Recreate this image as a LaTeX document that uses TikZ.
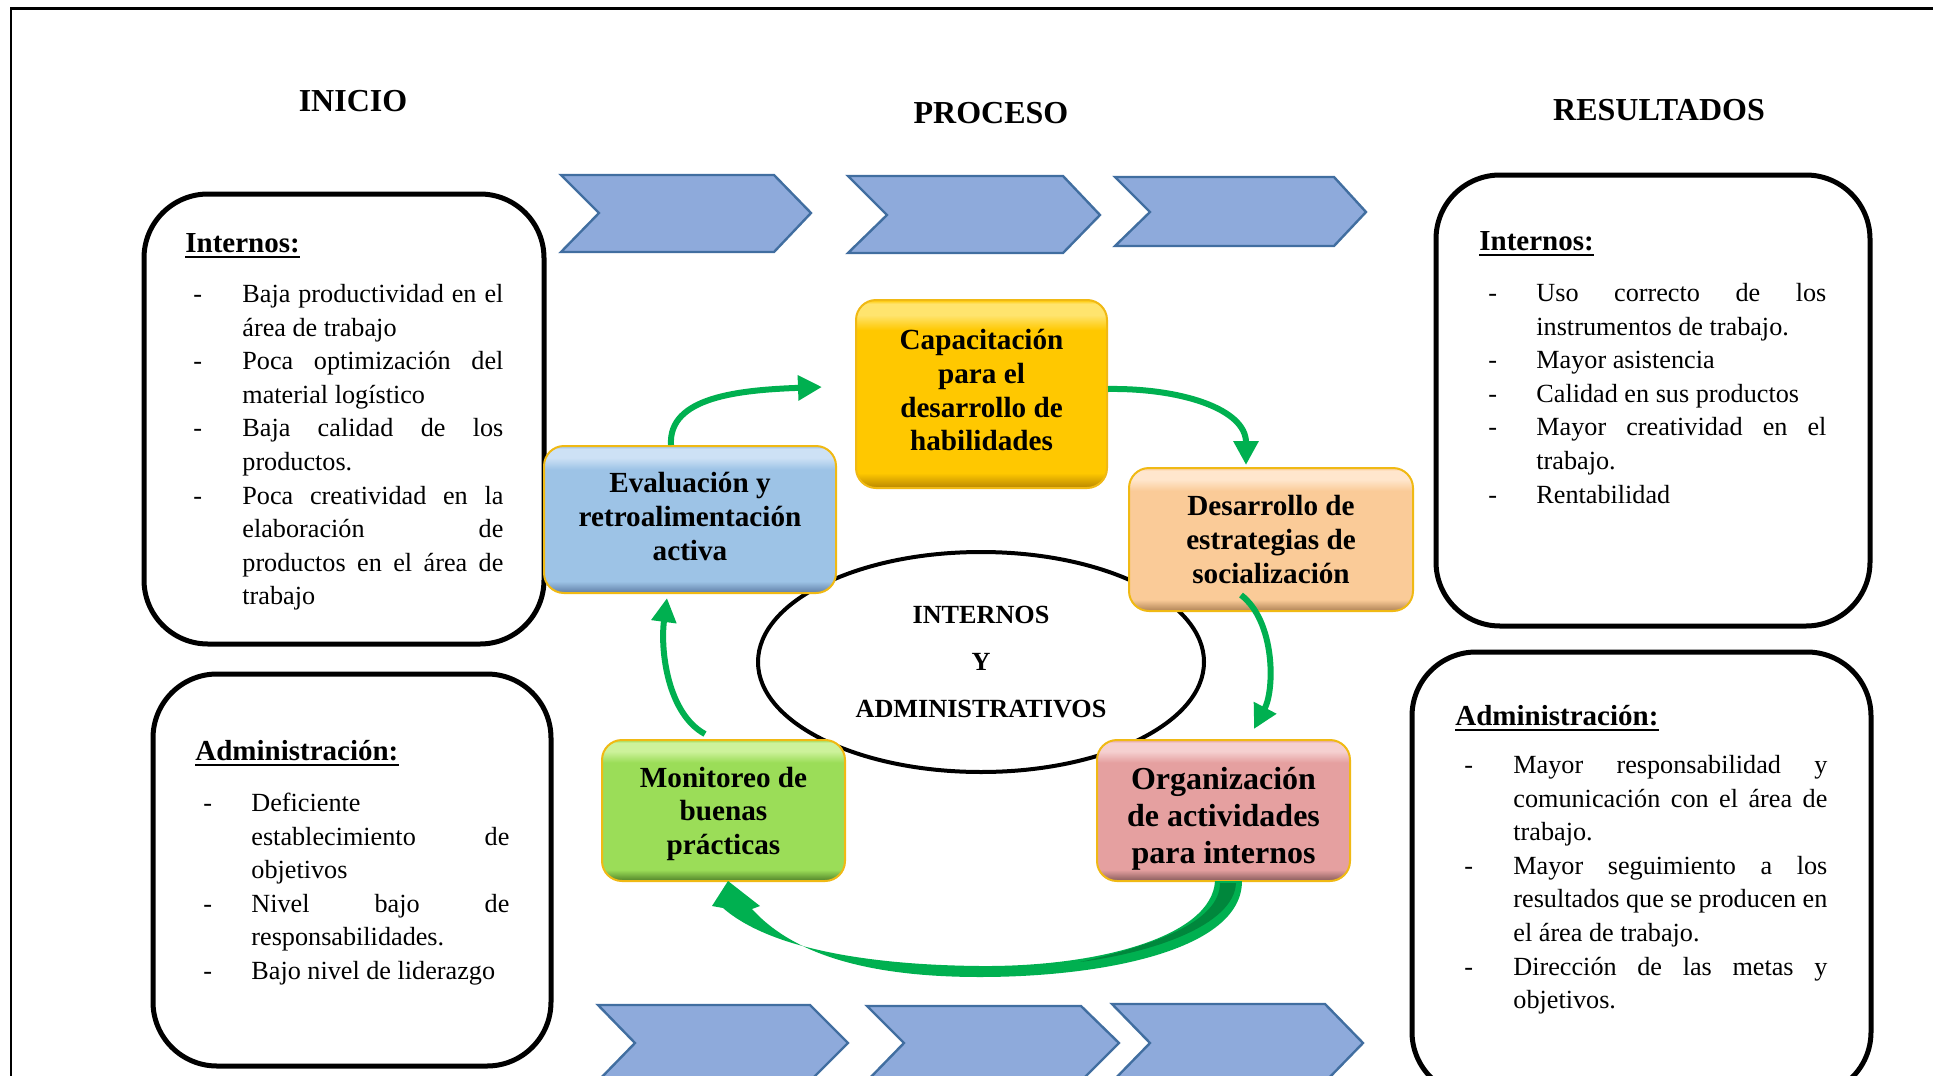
\documentclass[tikz,border=0pt]{standalone}
\usepackage{fontspec}
\setmainfont{Liberation Serif}
\usetikzlibrary{arrows.meta,calc,shapes.geometric}

\definecolor{chevfill}{RGB}{142,170,219}
\definecolor{chevline}{RGB}{65,110,160}
\definecolor{agreen}{RGB}{0,176,80}
\definecolor{dgreen}{RGB}{0,135,60}
\definecolor{goldline}{RGB}{240,185,20}

\definecolor{yB}{RGB}{255,200,0}\definecolor{yL}{RGB}{255,228,110}\definecolor{yD}{RGB}{185,135,0}
\definecolor{bB}{RGB}{157,195,230}\definecolor{bL}{RGB}{205,225,245}\definecolor{bD}{RGB}{95,125,165}
\definecolor{pB}{RGB}{250,203,152}\definecolor{pL}{RGB}{255,230,205}\definecolor{pD}{RGB}{175,130,85}
\definecolor{rB}{RGB}{229,160,160}\definecolor{rL}{RGB}{245,208,208}\definecolor{rD}{RGB}{135,90,90}
\definecolor{gB}{RGB}{155,221,88}\definecolor{gL}{RGB}{205,242,155}\definecolor{gD}{RGB}{80,130,40}

\pgfdeclareverticalshading{shY}{100bp}{color(0bp)=(yD); color(25bp)=(yD); color(29bp)=(yB); color(67bp)=(yB); color(71bp)=(yL); color(74bp)=(yL); color(75bp)=(yB); color(100bp)=(yB)}
\pgfdeclareverticalshading{shB}{100bp}{color(0bp)=(bD); color(25bp)=(bD); color(29bp)=(bB); color(67bp)=(bB); color(71bp)=(bL); color(74bp)=(bL); color(75bp)=(bB); color(100bp)=(bB)}
\pgfdeclareverticalshading{shP}{100bp}{color(0bp)=(pD); color(25bp)=(pD); color(29bp)=(pB); color(67bp)=(pB); color(71bp)=(pL); color(74bp)=(pL); color(75bp)=(pB); color(100bp)=(pB)}
\pgfdeclareverticalshading{shR}{100bp}{color(0bp)=(rD); color(25bp)=(rD); color(29bp)=(rB); color(67bp)=(rB); color(71bp)=(rL); color(74bp)=(rL); color(75bp)=(rB); color(100bp)=(rB)}
\pgfdeclareverticalshading{shG}{100bp}{color(0bp)=(gD); color(25bp)=(gD); color(29bp)=(gB); color(67bp)=(gB); color(71bp)=(gL); color(74bp)=(gL); color(75bp)=(gB); color(100bp)=(gB)}

\newlength\dw \newlength\tw
\newcommand\ItJ[1]{\makebox[\dw][l]{-}\makebox[\tw][s]{#1}}
\newcommand\ItL[1]{\makebox[\dw][l]{-}#1}
\newcommand\CoJ[1]{\hspace*{\dw}\makebox[\tw][s]{#1}}
\newcommand\CoL[1]{\hspace*{\dw}#1}
\newcommand\fst{\rule{0pt}{10pt}}
\newcommand\tp[1]{\rule{0pt}{#1}}
\newcommand\bt[1]{\rule[-#1]{0pt}{0pt}}

\tikzset{
  bigbox/.style={draw=black, line width=2.5pt, rounded corners=32pt, fill=white},
  chev/.style={fill=chevfill, draw=chevline, line width=1.2pt, line join=miter},
  ttl/.style={font=\fontsize{16}{19}\selectfont\bfseries, inner sep=0pt},
  hd/.style={font=\fontsize{14.5}{17}\selectfont\bfseries, inner sep=0pt},
  uline/.style={line width=1.15pt},
  lst/.style={font=\fontsize{13.1}{16.8}\selectfont, align=left, inner sep=0pt},
  pbox/.style={draw=goldline, line width=1pt, rounded corners=10pt, align=center,
    font=\fontsize{14.6}{16.9}\selectfont\bfseries, inner sep=2pt},
  ell/.style={ellipse, draw=black, line width=2pt, fill=white, minimum width=223pt,
    minimum height=110pt, align=center, font=\fontsize{13.1}{23.7}\selectfont\bfseries},
  garrow/.style={draw=agreen, line width=3pt, -{Triangle[length=12pt,width=12pt]}}
}

\begin{document}
\begin{tikzpicture}[x=0.5pt,y=-0.5pt]
\useasboundingbox (0,0) rectangle (1933,1076);
\fill[white] (0,0) rectangle (1933,1076);

% frame
\draw[line width=1.4pt] (11,1100) -- (11,8.5) -- (1960,8.5);

% titles
\node[ttl, anchor=base] (t1) at (353,111) {INICIO};
\node[ttl, anchor=base] (t2) at (991,123) {PROCESO};
\node[ttl, anchor=base] (t3) at (1659,120) {RESULTADOS};

% chevrons top
\draw[chev] (561,175) -- (774,175) -- (811,213) -- (774,252) -- (561,252) -- (599,213) -- cycle;
\draw[chev] (848,176) -- (1063,176) -- (1100,215) -- (1063,253) -- (848,253) -- (887,215) -- cycle;
\draw[chev] (1115,177) -- (1334,177) -- (1366,212) -- (1334,246) -- (1115,246) -- (1150,212) -- cycle;
% chevrons bottom
\draw[chev] (598,1005) -- (810,1005) -- (848,1043) -- (810,1081) -- (598,1081) -- (635,1043) -- cycle;
\draw[chev] (867,1006) -- (1081,1006) -- (1119,1043) -- (1081,1081) -- (867,1081) -- (904,1043) -- cycle;
\draw[chev] (1112,1004) -- (1325,1004) -- (1363,1043) -- (1325,1082) -- (1112,1082) -- (1150,1043) -- cycle;

% side boxes
\node[bigbox, minimum width=200pt, minimum height=225pt] (b1) at (344,419) {};
\node[bigbox, minimum width=199pt, minimum height=196pt] (b2) at (352,870) {};
\node[bigbox, minimum width=217pt, minimum height=225.5pt] (b3) at (1653,400.5) {};
\node[bigbox, minimum width=229.5pt, minimum height=222pt] (b4) at (1641.5,874) {};

% headings
\node[hd, anchor=base west] (h1) at (185,252) {Internos:};
\draw[uline] ([yshift=-2.4pt]h1.base west) -- ([yshift=-2.4pt]h1.base east);
\node[hd, anchor=base west] (h2) at (195,760) {Administración:};
\draw[uline] ([yshift=-2.4pt]h2.base west) -- ([yshift=-2.4pt]h2.base east);
\node[hd, anchor=base west] (h3) at (1479,250) {Internos:};
\draw[uline] ([yshift=-2.4pt]h3.base west) -- ([yshift=-2.4pt]h3.base east);
\node[hd, anchor=base west] (h4) at (1455,725) {Administración:};
\draw[uline] ([yshift=-2.4pt]h4.base west) -- ([yshift=-2.4pt]h4.base east);

% lists
\setlength\dw{24.5pt}\setlength\tw{130.5pt}
\node[lst, anchor=north west] (l1) at (193,282) {\fst\ItJ{Baja productividad en el}\\
\CoL{área de trabajo}\\
\ItJ{Poca optimización del}\\
\CoL{material logístico}\\
\ItJ{Baja calidad de los}\\
\CoL{productos.}\\
\ItJ{Poca creatividad en la}\\
\CoJ{elaboración de}\\
\CoJ{productos en el área de}\\
\CoL{trabajo}};

\setlength\dw{24pt}\setlength\tw{129pt}
\node[lst, anchor=north west] (l2) at (203,791) {\fst\ItL{Deficiente}\\
\CoJ{establecimiento de}\\
\CoL{objetivos}\\
\ItJ{Nivel bajo de}\\
\CoL{responsabilidades.}\\
\ItL{Bajo nivel de liderazgo}};

\setlength\dw{24pt}\setlength\tw{145pt}
\node[lst, anchor=north west] (l3) at (1488,281) {\fst\ItJ{Uso correcto de los}\\
\CoL{instrumentos de trabajo.}\\
\ItL{Mayor asistencia}\\
\ItL{Calidad en sus productos}\\
\ItJ{Mayor creatividad en el}\\
\CoL{trabajo.}\\
\ItL{Rentabilidad}};

\setlength\dw{24.5pt}\setlength\tw{157pt}
\node[lst, anchor=north west] (l4) at (1464,753) {\fst\ItJ{Mayor responsabilidad y}\\
\CoJ{comunicación con el área de}\\
\CoL{trabajo.}\\
\ItJ{Mayor seguimiento a los}\\
\CoJ{resultados que se producen en}\\
\CoL{el área de trabajo.}\\
\ItJ{Dirección de las metas y}\\
\CoL{objetivos.}};

% central ellipse
\node[ell] (ell) at (981,662) {INTERNOS\\Y\\ADMINISTRATIVOS};

% process boxes
\node[pbox, shade, shading=shY, minimum width=125.5pt, minimum height=94pt] (cap) at (981.5,394)
  {\tp{11pt}Capacitación\\para el\\desarrollo de\\habilidades\bt{4.8pt}};
\node[pbox, shade, shading=shB, minimum width=146pt, minimum height=73.5pt, font=\fontsize{14.6}{17}\selectfont\bfseries] (eval) at (690,519.5)
  {\tp{11pt}Evaluación y\\retroalimentación\\activa\bt{4.4pt}};
\node[pbox, shade, shading=shP, minimum width=142pt, minimum height=71.5pt] (des) at (1271,539.5)
  {Desarrollo de\\estrategias de\\socialización};
\node[pbox, shade, shading=shR, minimum width=126.5pt, minimum height=70.5pt, font=\fontsize{16}{18.5}\selectfont\bfseries] (org) at (1223.5,810.5)
  {\tp{22.4pt}Organización\\de actividades\\para internos\bt{6pt}};
\node[pbox, shade, shading=shG, minimum width=121.5pt, minimum height=70.5pt] (mon) at (723.5,810.5)
  {\tp{14pt}Monitoreo de\\buenas\\prácticas\bt{3.6pt}};

% arrows
\draw[garrow] ($(eval.north)+(-19,0)$) .. controls +(-3,-48) and +(-83,3) .. ($(cap.west)+(-33,-7)$);
\draw[garrow] ($(cap.east)+(0,-5)$) .. controls +(73,-1) and +(0,-56) .. ($(des.north)+(-25,-2)$);
\draw[garrow] ($(des.south)+(-30,-17)$) .. controls +(34,26) and +(21,-40) .. ($(org.north)+(30.5,-10)$);
\draw[garrow] ($(mon.north)+(-18.5,-5)$) .. controls +(-37,-20) and +(-7,53) .. ($(eval.south)+(-23,4)$);

% big curved arrow org -> mon
\coordinate (o) at (org.south);
\coordinate (m) at (mon.south);
\coordinate (mid) at ($(o)!0.5!(m)$);
\fill[agreen] ($(o)+(18.5,-1)$) .. controls ($(o)+(18.5,69)$) and ($(mid)+(126.5,95)$) .. ($(mid)+(6.5,95)$)
  .. controls ($(mid)+(-113.5,95)$) and ($(m)+(66.5,69)$) .. ($(m)+(28.5,27)$)
  -- ($(m)+(36.5,24)$) -- ($(m)+(4.5,-1)$) -- ($(m)+(-11.5,24)$) -- ($(m)+(-0.5,26)$)
  .. controls ($(m)+(46.5,67)$) and ($(mid)+(-103.5,83)$) .. ($(mid)+(6.5,84)$)
  .. controls ($(mid)+(126.5,85)$) and ($(o)+(-11.5,54)$) .. ($(o)+(-8.5,-1)$) -- cycle;
\fill[dgreen] ($(o)+(-3.5,1)$) -- ($(o)+(12.5,1)$) .. controls ($(o)+(10.5,44)$) and ($(o)+(-73.5,71)$) .. ($(mid)+(106.5,80)$)
  .. controls ($(o)+(-73.5,64)$) and ($(o)+(-3.5,41)$) .. ($(o)+(-3.5,1)$) -- cycle;
\end{tikzpicture}
\end{document}
